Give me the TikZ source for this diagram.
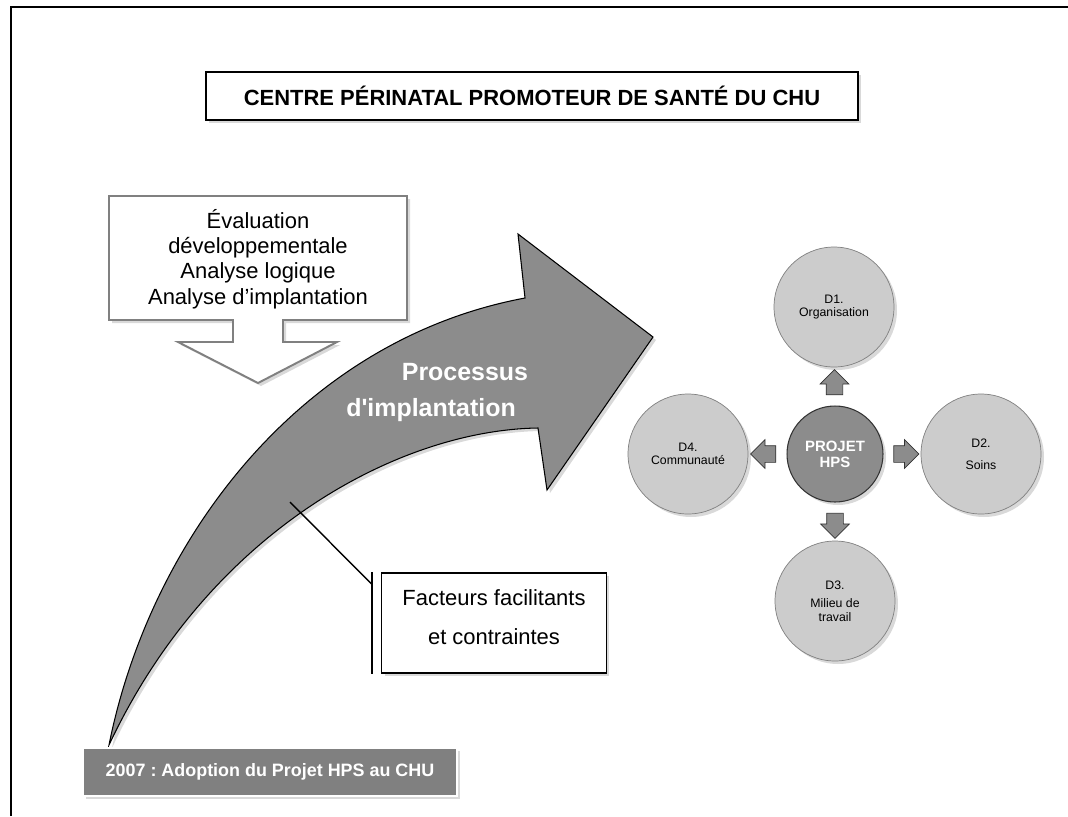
\documentclass[tikz,border=0pt]{standalone}
\usepackage{fontspec}
\setmainfont{Liberation Sans}
\usetikzlibrary{shapes.arrows,shadows,calc,positioning}

\begin{document}
\frenchspacing
\begin{tikzpicture}[x=0.02cm,y=-0.02cm,
    softshadow/.style={drop shadow={opacity=0.3,shadow xshift=0.06cm,shadow yshift=-0.06cm}},
    titlebox/.style={draw,line width=1.4pt,fill=white,minimum width=13.04cm,minimum height=0.96cm,
      font=\bfseries\fontsize{12.5}{15}\selectfont,softshadow},
    factbox/.style={draw,line width=1.1pt,fill=white,minimum width=4.5cm,minimum height=2cm,
      align=center,font=\fontsize{12.5}{22}\selectfont,softshadow},
    yearbox/.style={draw=white,line width=0.8pt,fill=black!50,text=white,minimum width=7.48cm,
      minimum height=0.96cm,font=\bfseries\fontsize{10.2}{12}\selectfont,softshadow},
    dom/.style={circle,draw=black!50,fill=black!20,minimum size=2.4cm,inner sep=0pt,
      align=center,font=\fontsize{7}{7.6}\selectfont,softshadow},
    hub/.style={circle,draw=black!80,line width=0.6pt,fill=black!45,minimum size=1.92cm,
      inner sep=0pt,align=center,text=white,font=\bfseries\fontsize{8.5}{9}\selectfont,softshadow},
    blockarrow/.style={single arrow,draw=black!80,fill=black!45,minimum height=0.42cm,
      inner sep=0.16cm,single arrow head extend=0.12cm},
    proctext/.style={text=white,font=\bfseries\fontsize{14.2}{17}\selectfont}]
  \useasboundingbox (0,0) rectangle (1068,816);
  \draw[line width=1.2pt] (11,816) -- (11,7) -- (1068,7);

  \node[titlebox] (title) at (532,96) {CENTRE PÉRINATAL PROMOTEUR DE SANTÉ DU CHU};

  \draw[draw=black!50,line width=1.1pt,fill=white,softshadow]
    (109,196) -- (407,196) -- (407,320) -- (283,320) -- (283,342) -- (337,342) -- (258,383)
    -- (178,342) -- (233,342) -- (233,320) -- (109,320) -- cycle;
  \node[align=center,font=\fontsize{12.5}{14.5}\selectfont] (eval) at (258,259)
    {Évaluation\\développementale\\Analyse logique\\Analyse d’implantation};

  \draw[fill=black!45,line width=0.6pt,softshadow]
    (109,745) .. controls (150,540) and (300,340) .. (525,298) -- (518,234) -- (653,337)
    -- (547,490) -- (538,428) .. controls (400,430) and (210,530) .. (109,745) -- cycle;
  \node[proctext] (proc) at (465,372) {Processus};
  \node[proctext] (impl) at (431,410) {d\textquotesingle implantation};

  \node[factbox] (fact) at (494,623) {Facteurs facilitants\\et contraintes\rule[-0.24cm]{0pt}{0pt}};
  \coordinate (ptr) at (290,502);
  \draw[line width=0.8pt] (ptr) -- ([xshift=-0.18cm,yshift=-0.24cm]fact.north west);
  \draw[line width=1.1pt] ([xshift=-0.18cm]fact.north west) -- ([xshift=-0.18cm]fact.south west);

  \node[yearbox] (year) at (270,772) {2007 : Adoption du Projet HPS au CHU};

  \node[hub] (hps) at (835,454) {PROJET\\HPS};
  \node[dom] (d1) at (834,307) {D1.\\Organisation};
  \node[dom] (d2) at (981,454) {D2.\\[5pt]Soins};
  \node[dom] (d3) at (835,601) {D3.\\[3pt]Milieu de\\travail};
  \node[dom] (d4) at (688,454) {D4.\\Communauté};

  \node[blockarrow,shape border rotate=90] (a1) at ($(hps.north)!0.5!(d1.south)$) {};
  \node[blockarrow,shape border rotate=0] (a2) at ($(hps.east)!0.5!(d2.west)$) {};
  \node[blockarrow,shape border rotate=270] (a3) at ($(hps.south)!0.5!(d3.north)$) {};
  \node[blockarrow,shape border rotate=180] (a4) at ($(hps.west)!0.5!(d4.east)$) {};
\end{tikzpicture}
\end{document}
